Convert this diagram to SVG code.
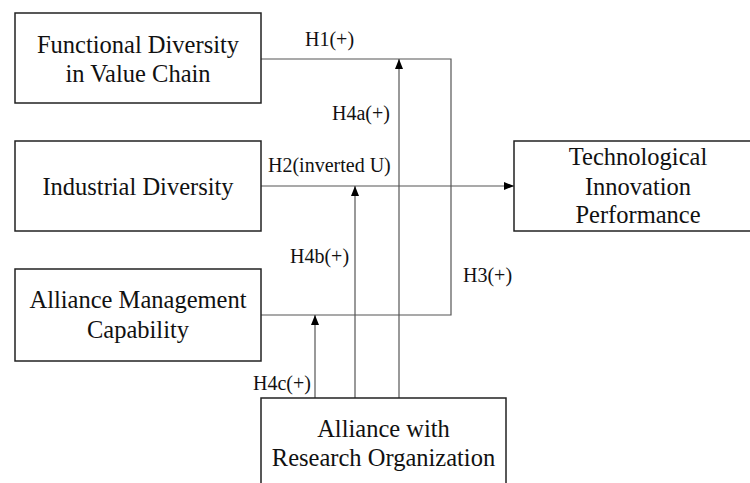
<svg xmlns="http://www.w3.org/2000/svg" width="750" height="483" viewBox="0 0 750 483">
<style>
.box{fill:#fff;stroke:#222;stroke-width:1.5}
.t{font-family:"Liberation Serif","Times New Roman",serif;font-size:24.5px;fill:#111;text-anchor:middle}
.lbl{font-family:"Liberation Serif","Times New Roman",serif;font-size:20px;fill:#111}
.ln{fill:none;stroke:#555;stroke-width:1.2}
</style>
<defs>
<marker id="ah" markerUnits="userSpaceOnUse" markerWidth="10" markerHeight="10" viewBox="0 0 10 10" refX="10" refY="5" orient="auto">
<path d="M0,1 L10,5 L0,9 Z" fill="#000"/>
</marker>
</defs>
<rect width="750" height="483" fill="#fff"/>
<g id="connectors">
<path class="ln" d="M261,59 H451 V186"/>
<path class="ln" d="M261,315 H451 V186"/>
<path class="ln" d="M261,186 H514" marker-end="url(#ah)"/>
<path class="ln" d="M399,398 V59" marker-end="url(#ah)"/>
<path class="ln" d="M355,398 V186" marker-end="url(#ah)"/>
<path class="ln" d="M315,398 V315" marker-end="url(#ah)"/>
<text class="lbl" x="305" y="46">H1(+)</text>
<text class="lbl" x="332" y="120">H4a(+)</text>
<text class="lbl" x="268" y="172">H2(inverted U)</text>
<text class="lbl" x="290" y="263">H4b(+)</text>
<text class="lbl" x="463" y="282">H3(+)</text>
<text class="lbl" x="253" y="390">H4c(+)</text>
</g>
<g id="functional">
<rect class="box" x="15" y="13" width="246" height="90"/>
<text class="t" x="138" y="53">Functional Diversity</text>
<text class="t" x="138" y="82">in Value Chain</text>
</g>
<g id="industrial">
<rect class="box" x="15" y="141" width="246" height="90"/>
<text class="t" x="138" y="195">Industrial Diversity</text>
</g>
<g id="alliance-mgmt">
<rect class="box" x="15" y="269" width="246" height="92"/>
<text class="t" x="138" y="308">Alliance Management</text>
<text class="t" x="138" y="338">Capability</text>
</g>
<g id="research">
<rect class="box" x="261" y="398" width="245" height="100"/>
<text class="t" x="383.5" y="437">Alliance with</text>
<text class="t" x="383.5" y="466">Research Organization</text>
</g>
<g id="tip">
<rect class="box" x="514" y="141" width="248" height="90"/>
<text class="t" x="638" y="165">Technological</text>
<text class="t" x="638" y="195">Innovation</text>
<text class="t" x="638" y="223">Performance</text>
</g>
</svg>
